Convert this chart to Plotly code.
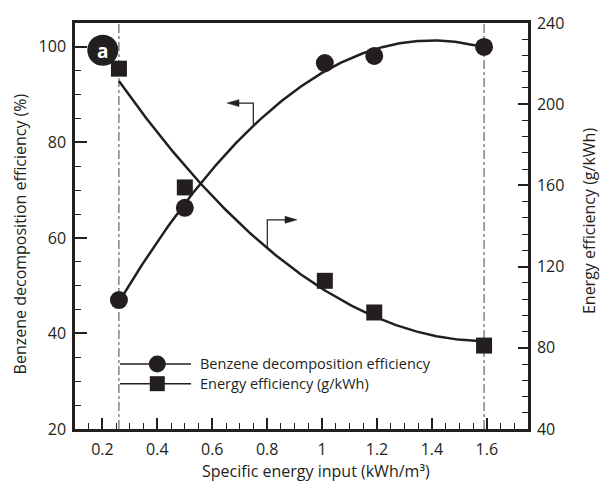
import numpy as np
import plotly.graph_objects as go

# ---- data ----
sei = [0.26, 0.50, 1.01, 1.19, 1.59]                 # Specific energy input (kWh/m3)
benzene_eff = [47.0, 66.3, 96.6, 98.1, 100.0]        # Benzene decomposition efficiency (%)
energy_eff = [217.5, 159.0, 113.0, 97.4, 81.1]       # Energy efficiency (g/kWh)
x_ticks = [0.2, 0.4, 0.6, 0.8, 1.0, 1.2, 1.4, 1.6]
x_ticktext = ["0.2", "0.4", "0.6", "0.8", "1", "1.2", "1.4", "1.6"]
y1_ticks = [20, 40, 60, 80, 100]
y2_ticks = [40, 80, 120, 160, 200, 240]

BLACK = "#231f20"
FONT = "Open Sans"

# quadratic fits (trend lines)
xf = np.linspace(sei[0], sei[-1], 200)
fit_b = np.polyval(np.polyfit(sei, benzene_eff, 2), xf)
fit_e = np.polyval(np.polyfit(sei, energy_eff, 2), xf)

fig = go.Figure()
fig.add_trace(go.Scatter(x=xf, y=fit_b, mode="lines", line=dict(color=BLACK, width=2.5),
                         showlegend=False, hoverinfo="skip"))
fig.add_trace(go.Scatter(x=xf, y=fit_e, mode="lines", line=dict(color=BLACK, width=2.5),
                         yaxis="y2", showlegend=False, hoverinfo="skip"))
fig.add_trace(go.Scatter(x=sei, y=benzene_eff, mode="markers",
                         marker=dict(symbol="circle", size=18, color=BLACK),
                         name="Benzene decomposition efficiency", showlegend=False))
fig.add_trace(go.Scatter(x=sei, y=energy_eff, mode="markers", yaxis="y2",
                         marker=dict(symbol="square", size=16, color=BLACK),
                         name="Energy efficiency (g/kWh)", showlegend=False))

# vertical dash-dot lines at first and last measurement
for xv in (sei[0], sei[-1]):
    fig.add_shape(type="line", xref="x", yref="paper", x0=xv, x1=xv, y0=0, y1=1,
                  line=dict(color="#444444", width=1, dash="dashdot"), layer="below")

L, R, T, B = 75, 72, 17, 54
W, H = 600, 483
pw, ph = W - L - R, H - T - B


def px(xp):
    return (xp - L) / pw


def py(yp):
    return (H - B - yp) / ph


def path(points, close=False):
    s = "M " + " L ".join(f"{px(a):.5f},{py(b):.5f}" for a, b in points)
    return s + (" Z" if close else "")


# arrows (elbow lines + filled heads)
fig.add_shape(type="path", xref="paper", yref="paper",
              path=path([(253.3, 120), (253.3, 98.3), (236, 98.3)]),
              line=dict(color=BLACK, width=1.2))
fig.add_shape(type="path", xref="paper", yref="paper",
              path=path([(227.0, 98.3), (239, 94.8), (239, 101.8)], close=True),
              fillcolor=BLACK, line=dict(color=BLACK, width=0.5))
fig.add_shape(type="path", xref="paper", yref="paper",
              path=path([(267.3, 245), (267.3, 216.7), (288, 216.7)]),
              line=dict(color=BLACK, width=1.2))
fig.add_shape(type="path", xref="paper", yref="paper",
              path=path([(297.0, 216.7), (285, 213.2), (285, 220.2)], close=True),
              fillcolor=BLACK, line=dict(color=BLACK, width=0.5))

# legend (manual)
leg_items = [("circle", "Benzene decomposition efficiency", 363, 17),
             ("square", "Energy efficiency (g/kWh)", 383, 15)]
for sym, label, yl, sz in leg_items:
    fig.add_shape(type="line", xref="paper", yref="paper", x0=px(120), x1=px(191),
                  y0=py(yl), y1=py(yl), line=dict(color=BLACK, width=1.5))
    fig.add_shape(type="circle" if sym == "circle" else "rect", xref="paper", yref="paper",
                  xsizemode="pixel", ysizemode="pixel", xanchor=px(157.3), yanchor=py(yl),
                  x0=-sz / 2, x1=sz / 2, y0=-sz / 2, y1=sz / 2,
                  fillcolor=BLACK, line=dict(width=0))
    fig.add_annotation(xref="paper", yref="paper", x=px(198), y=py(yl), text=label,
                       showarrow=False, xanchor="left", yanchor="middle",
                       font=dict(family=FONT, size=14.5, color=BLACK))

# badge "a"
fig.add_shape(type="circle", xref="paper", yref="paper", xsizemode="pixel", ysizemode="pixel",
              xanchor=px(102.8), yanchor=py(44.7), x0=-15.5, x1=15.5, y0=-15.5, y1=15.5,
              fillcolor=BLACK, line=dict(width=0))
fig.add_annotation(xref="paper", yref="paper", x=px(102.8), y=py(45.5), text="<b>a</b>",
                   showarrow=False, xanchor="center", yanchor="middle",
                   font=dict(family=FONT, size=19, color="white"))

# axis titles
fig.add_annotation(xref="paper", yref="paper", x=px(316), y=py(472),
                   text="Specific energy input (kWh/m³)", showarrow=False,
                   xanchor="center", yanchor="middle", font=dict(family=FONT, size=16, color=BLACK))
fig.add_annotation(xref="paper", yref="paper", x=px(20), y=py(231.5), textangle=-90,
                   text="Benzene decomposition efficiency (%)", showarrow=False,
                   xanchor="center", yanchor="middle", font=dict(family=FONT, size=16, color=BLACK))
fig.add_annotation(xref="paper", yref="paper", x=px(589), y=py(218), textangle=-90,
                   text="Energy efficiency (g/kWh)", showarrow=False,
                   xanchor="center", yanchor="middle", font=dict(family=FONT, size=16, color=BLACK))

tickfont = dict(family=FONT, size=16, color=BLACK)
fig.update_layout(
    width=W, height=H, margin=dict(l=L, r=R, t=T, b=B),
    paper_bgcolor="white", plot_bgcolor="white",
    xaxis=dict(range=[0.1, 1.75], tickvals=x_ticks, ticktext=x_ticktext, ticks="inside",
               ticklen=11, tickwidth=2, tickcolor=BLACK, linewidth=2.5, linecolor=BLACK,
               mirror=True, showgrid=False, zeroline=False, tickfont=tickfont,
               ticklabelstandoff=4,
               minor=dict(dtick=0.05, tick0=0, ticks="inside", ticklen=6, tickwidth=1.2,
                          tickcolor=BLACK, showgrid=False)),
    yaxis=dict(range=[20, 105], tickvals=y1_ticks, ticks="inside", ticklen=12, tickwidth=2,
               tickcolor=BLACK, linewidth=2.5, linecolor=BLACK, mirror=True, showgrid=False,
               zeroline=False, tickfont=tickfont, ticklabelstandoff=3,
               minor=dict(dtick=5, tick0=0, ticks="inside", ticklen=6, tickwidth=1.2,
                          tickcolor=BLACK, showgrid=False)),
    yaxis2=dict(range=[40, 240], tickvals=y2_ticks, overlaying="y", side="right",
                ticks="inside", ticklen=10, tickwidth=2, tickcolor=BLACK, linewidth=2.5,
                linecolor=BLACK, showgrid=False, zeroline=False, tickfont=tickfont,
                ticklabelstandoff=3,
                minor=dict(dtick=8, tick0=0, ticks="inside", ticklen=6, tickwidth=1.2,
                           tickcolor=BLACK, showgrid=False)),
    showlegend=False,
)

fig.write_html("out.html")
